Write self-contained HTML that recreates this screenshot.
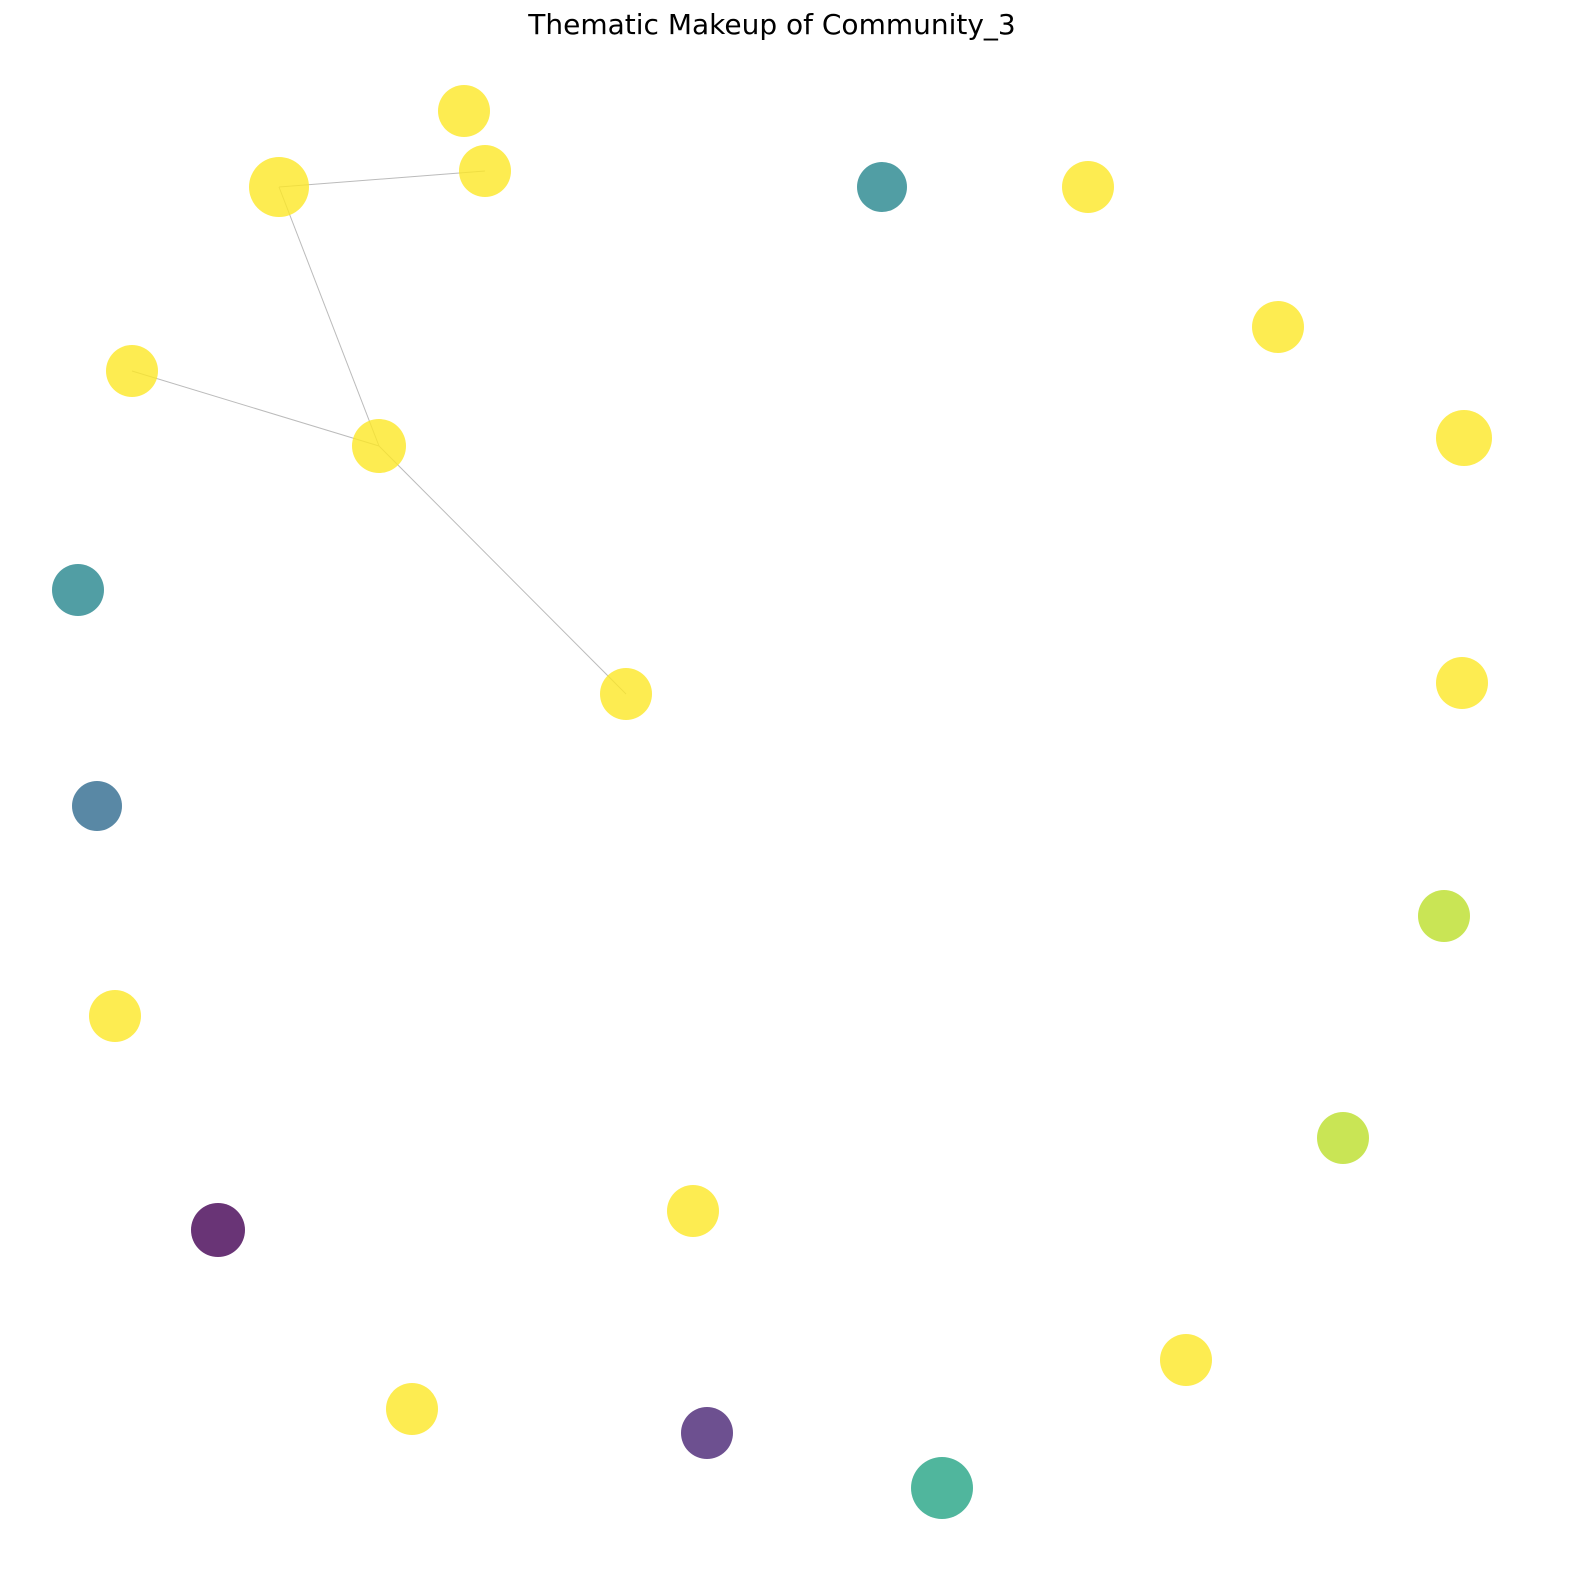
<!DOCTYPE html>
<html><head><meta charset="utf-8">
<style>
html,body{margin:0;padding:0;background:#fff;}
svg{display:block;}
</style></head>
<body>
<svg id="chart" width="1570" height="1594" viewBox="0 0 1570 1594" xmlns="http://www.w3.org/2000/svg">
<text x="772" y="34" text-anchor="middle" font-family="DejaVu Sans, Liberation Sans, sans-serif" font-size="28" fill="#000">Thematic Makeup of Community_3</text>
<g id="edges"></g>
<g id="nodes"></g>
</svg>
<script>
const nodeX = [464,279,485,882,1088,1278,1464,132,379,78,626,1462,97,1444,115,1343,218,693,1186,412,707,942];
const nodeY = [111,187,171,187,187,327,438,371,446,590,694,683,806,916,1016,1138,1230,1211,1360,1409,1433,1488];
const nodeRadius = [26,30,26,25,26,26,28,26,27,26,26,26,25,26,26,26,27,26,26,26,26,31];
const nodeTheme = [1,1,1,0.46,1,1,1,1,1,0.46,1,1,0.34,0.9,1,0.9,0,1,1,1,0.1,0.58];
const edgeFrom = [1,1,8,8];
const edgeTo = [2,8,7,10];

const viridis = [[68,1,84],[72,40,120],[62,74,137],[49,104,142],[38,130,142],[31,158,137],[53,183,121],[109,205,89],[180,222,44],[253,231,37]];
function colorOf(v){
  const t = Math.max(0,Math.min(1,v))*(viridis.length-1);
  const i = Math.min(Math.floor(t), viridis.length-2), f = t-i;
  const c = viridis[i].map((a,k)=>Math.round(a+(viridis[i+1][k]-a)*f));
  return `rgb(${c[0]},${c[1]},${c[2]})`;
}
const NS = "http://www.w3.org/2000/svg";
const eg = document.getElementById('edges');
for (let e=0;e<edgeFrom.length;e++){
  const l = document.createElementNS(NS,'line');
  l.setAttribute('x1',nodeX[edgeFrom[e]]); l.setAttribute('y1',nodeY[edgeFrom[e]]);
  l.setAttribute('x2',nodeX[edgeTo[e]]); l.setAttribute('y2',nodeY[edgeTo[e]]);
  l.setAttribute('stroke','#bbbbbb'); l.setAttribute('stroke-width','1');
  
  
  eg.appendChild(l);
}
const ng = document.getElementById('nodes');
for (let i=0;i<nodeX.length;i++){
  const c = document.createElementNS(NS,'circle');
  c.setAttribute('cx',nodeX[i]); c.setAttribute('cy',nodeY[i]); c.setAttribute('r',nodeRadius[i]);
  c.setAttribute('fill',colorOf(nodeTheme[i])); c.setAttribute('fill-opacity','0.8');
  
  
  ng.appendChild(c);
}
</script>
</body></html>
